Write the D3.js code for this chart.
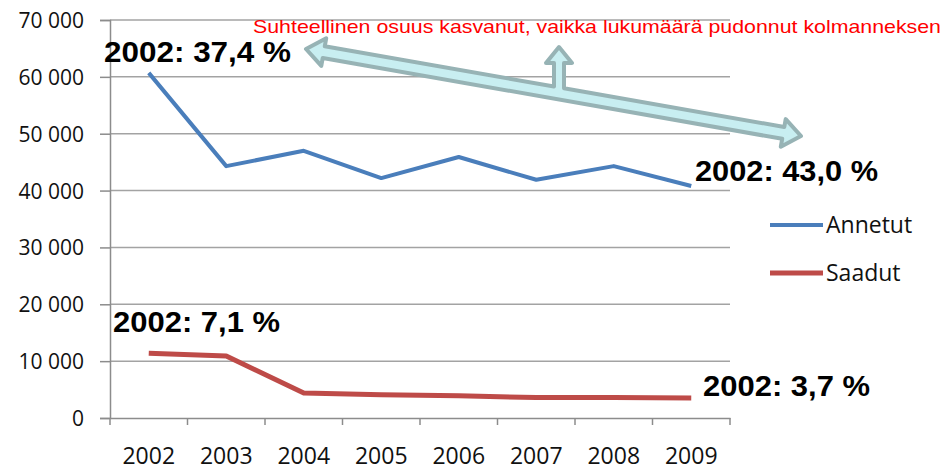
<!DOCTYPE html>
<html>
<head>
<meta charset="utf-8">
<script src="https://cdn.jsdelivr.net/npm/d3@7"></script>
<style>
  body { margin: 0; background: #fff; }
  svg { display: block; }
</style>
</head>
<body>
<svg id="chart" width="943" height="472"></svg>
<script>
// data
var years = ["2002", "2003", "2004", "2005", "2006", "2007", "2008", "2009"];
var annetut = [60700, 44300, 47000, 42200, 45900, 41900, 44300, 40800];
var saadut = [11400, 10900, 4400, 4100, 3900, 3600, 3600, 3500];
var yTicks = [0, 10000, 20000, 30000, 40000, 50000, 60000, 70000];
var seriesNames = ["Annetut", "Saadut"];
var notes = ["2002: 37,4 %", "2002: 43,0 %", "2002: 7,1 %", "2002: 3,7 %"];
var headline = "Suhteellinen osuus kasvanut, vaikka lukumäärä pudonnut kolmanneksen";

var svg = d3.select("#chart");
var colors = ["#4a7ebb", "#be4b48"];

var x = d3.scaleBand().domain(years).range([110, 730]);
var y = d3.scaleLinear().domain([0, 70000]).range([418, 20]);

var fi = d3.formatLocale({ decimal: ",", thousands: " ", grouping: [3], currency: ["", " €"] });
var fmt = fi.format(",");

// grid
svg.append("g").selectAll("line")
  .data(yTicks.slice(1))
  .enter().append("line")
  .attr("x1", 110).attr("x2", 730)
  .attr("y1", function (d) { return y(d); })
  .attr("y2", function (d) { return y(d); })
  .attr("stroke", "#a3a3a3").attr("stroke-width", 1.5);

// y axis
var yAxis = svg.append("g").attr("transform", "translate(110,0)")
  .call(d3.axisLeft(y).tickValues(yTicks).tickFormat(fmt).tickSize(10).tickPadding(16));
yAxis.select(".domain").attr("stroke", "#8c8c8c").attr("stroke-width", 1.5);
yAxis.selectAll(".tick line").attr("stroke", "#8c8c8c").attr("stroke-width", 1.5);
yAxis.selectAll("text").attr("font-family", "'Open Sans', sans-serif").attr("font-size", 21)
  .attr("fill", "#111").attr("dy", "0.36em");

// x axis
var xAxis = svg.append("g").attr("transform", "translate(0,418)")
  .call(d3.axisBottom(x).tickSize(0).tickPadding(30));
xAxis.select(".domain").attr("stroke", "#8c8c8c").attr("stroke-width", 1.5);
xAxis.selectAll("text").attr("font-family", "'Open Sans', sans-serif").attr("font-size", 23).attr("fill", "#111");
// tick marks on band edges
svg.append("g").selectAll("line")
  .data(years.concat(["end"]))
  .enter().append("line")
  .attr("x1", function (d, i) { return i < years.length ? x(d) : x.range()[1]; })
  .attr("x2", function (d, i) { return i < years.length ? x(d) : x.range()[1]; })
  .attr("y1", 418).attr("y2", 425)
  .attr("stroke", "#8c8c8c").attr("stroke-width", 1.5);

// lines
var line = d3.line()
  .x(function (d, i) { return x(years[i]) + x.bandwidth() / 2; })
  .y(function (d) { return y(d); });

[annetut, saadut].forEach(function (s, k) {
  svg.append("path").datum(s)
    .attr("d", line)
    .attr("fill", "none")
    .attr("stroke", colors[k])
    .attr("stroke-width", k == 0 ? 4 : 5)
    .attr("stroke-linejoin", "round");
});

// legend
var leg = svg.append("g");
seriesNames.forEach(function (n, k) {
  var ly = 225 + k * 48;
  leg.append("line").attr("x1", 770).attr("x2", 823).attr("y1", ly).attr("y2", ly)
    .attr("stroke", colors[k]).attr("stroke-width", k == 0 ? 4 : 5);
  leg.append("text").attr("x", 826).attr("y", ly + 8)
    .attr("font-family", "'Open Sans', sans-serif").attr("font-size", 23).attr("fill", "#111")
    .text(n);
});

// arrow annotation
function arrowPath(p0, p1, stemX, stemTop) {
  var dx = p1[0] - p0[0], dy = p1[1] - p0[1];
  var L = Math.sqrt(dx * dx + dy * dy);
  var u = [dx / L, dy / L], n = [-u[1], u[0]];
  var sw = 6, hw = 14, hl = 18;
  function pt(base, a, b) { return [base[0] + u[0] * a + n[0] * b, base[1] + u[1] * a + n[1] * b]; }
  // upper edge y at given x
  function upperY(xx) {
    var t = (xx - p0[0]) / u[0];
    var c = pt(p0, t, 0);
    return c[1] - sw / u[0];
  }
  var sh = 5, shw = 13, shl = 16;
  var pts = [
    p0,
    pt(p0, hl, -hw),
    pt(p0, hl, -sw),
    [stemX - sh, upperY(stemX - sh)],
    [stemX - sh, stemTop + shl],
    [stemX - shw, stemTop + shl],
    [stemX, stemTop],
    [stemX + shw, stemTop + shl],
    [stemX + sh, stemTop + shl],
    [stemX + sh, upperY(stemX + sh)],
    pt(p1, -hl, -sw),
    pt(p1, -hl, -hw),
    p1,
    pt(p1, -hl, hw),
    pt(p1, -hl, sw),
    pt(p0, hl, sw),
    pt(p0, hl, hw)
  ];
  return "M" + pts.map(function (p) { return p[0].toFixed(1) + "," + p[1].toFixed(1); }).join("L") + "Z";
}
svg.append("path")
  .attr("d", arrowPath([306, 49], [801, 136], 559, 47))
  .attr("fill", "#c8eef1")
  .attr("stroke", "#97b3b5")
  .attr("stroke-width", 4)
  .attr("stroke-linejoin", "round");

svg.append("text").attr("x", 253).attr("y", 33)
  .attr("font-family", "'Liberation Sans', Arial, sans-serif").attr("font-size", 19)
  .attr("fill", "#ff0000")
  .attr("textLength", 688).attr("lengthAdjust", "spacingAndGlyphs")
  .text(headline);

// percentage notes
var notePos = [[104, 62, 187], [695, 181, 183], [113, 332, 167], [703, 396, 167]];
notes.forEach(function (t, i) {
  svg.append("text").attr("x", notePos[i][0]).attr("y", notePos[i][1])
    .attr("font-family", "'Liberation Sans', Arial, sans-serif").attr("font-size", 29)
    .attr("font-weight", "bold").attr("fill", "#000")
    .attr("textLength", notePos[i][2]).attr("lengthAdjust", "spacingAndGlyphs")
    .text(t);
});
</script>
</body>
</html>
